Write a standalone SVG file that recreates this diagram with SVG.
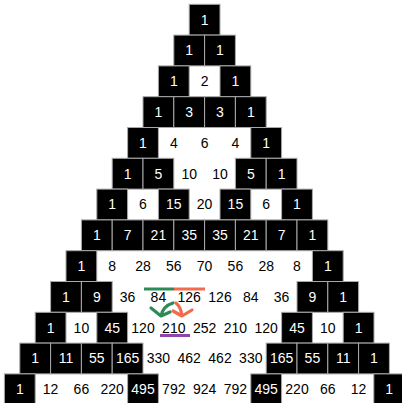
<svg xmlns="http://www.w3.org/2000/svg" width="402" height="403" viewBox="0 0 402 403">
<style>
rect.b{fill:#000;stroke:#aaa;stroke-width:1}
text{font-family:"Liberation Sans",Arial,sans-serif;font-size:14px;text-anchor:middle;fill:#000}
.b+text{fill:#fff}
.ann{fill:none;stroke-width:3;stroke-linecap:butt}
.arr{fill:none;stroke-width:3.2;stroke-linecap:round;stroke-linejoin:round}
</style>
<rect width="402" height="403" fill="#fff"/>
<g id="row0">
<g id="n0-0"><rect class="b" x="189.2" y="4.3" width="30.8" height="30.8"/><text x="204.6" y="24.6">1</text></g>
</g>
<g id="row1">
<g id="n1-0"><rect class="b" x="173.8" y="35.1" width="30.8" height="30.8"/><text x="189.2" y="55.4">1</text></g>
<g id="n1-1"><rect class="b" x="204.6" y="35.1" width="30.8" height="30.8"/><text x="220" y="55.4">1</text></g>
</g>
<g id="row2">
<g id="n2-0"><rect class="b" x="158.4" y="65.9" width="30.8" height="30.8"/><text x="173.8" y="86.2">1</text></g>
<g id="n2-1"><text x="204.6" y="86.2">2</text></g>
<g id="n2-2"><rect class="b" x="220" y="65.9" width="30.8" height="30.8"/><text x="235.4" y="86.2">1</text></g>
</g>
<g id="row3">
<g id="n3-0"><rect class="b" x="143" y="96.7" width="30.8" height="30.8"/><text x="158.4" y="117">1</text></g>
<g id="n3-1"><rect class="b" x="173.8" y="96.7" width="30.8" height="30.8"/><text x="189.2" y="117">3</text></g>
<g id="n3-2"><rect class="b" x="204.6" y="96.7" width="30.8" height="30.8"/><text x="220" y="117">3</text></g>
<g id="n3-3"><rect class="b" x="235.4" y="96.7" width="30.8" height="30.8"/><text x="250.8" y="117">1</text></g>
</g>
<g id="row4">
<g id="n4-0"><rect class="b" x="127.6" y="127.5" width="30.8" height="30.8"/><text x="143" y="147.8">1</text></g>
<g id="n4-1"><text x="173.8" y="147.8">4</text></g>
<g id="n4-2"><text x="204.6" y="147.8">6</text></g>
<g id="n4-3"><text x="235.4" y="147.8">4</text></g>
<g id="n4-4"><rect class="b" x="250.8" y="127.5" width="30.8" height="30.8"/><text x="266.2" y="147.8">1</text></g>
</g>
<g id="row5">
<g id="n5-0"><rect class="b" x="112.2" y="158.3" width="30.8" height="30.8"/><text x="127.6" y="178.6">1</text></g>
<g id="n5-1"><rect class="b" x="143" y="158.3" width="30.8" height="30.8"/><text x="158.4" y="178.6">5</text></g>
<g id="n5-2"><text x="189.2" y="178.6">10</text></g>
<g id="n5-3"><text x="220" y="178.6">10</text></g>
<g id="n5-4"><rect class="b" x="235.4" y="158.3" width="30.8" height="30.8"/><text x="250.8" y="178.6">5</text></g>
<g id="n5-5"><rect class="b" x="266.2" y="158.3" width="30.8" height="30.8"/><text x="281.6" y="178.6">1</text></g>
</g>
<g id="row6">
<g id="n6-0"><rect class="b" x="96.8" y="189.1" width="30.8" height="30.8"/><text x="112.2" y="209.4">1</text></g>
<g id="n6-1"><text x="143" y="209.4">6</text></g>
<g id="n6-2"><rect class="b" x="158.4" y="189.1" width="30.8" height="30.8"/><text x="173.8" y="209.4">15</text></g>
<g id="n6-3"><text x="204.6" y="209.4">20</text></g>
<g id="n6-4"><rect class="b" x="220" y="189.1" width="30.8" height="30.8"/><text x="235.4" y="209.4">15</text></g>
<g id="n6-5"><text x="266.2" y="209.4">6</text></g>
<g id="n6-6"><rect class="b" x="281.6" y="189.1" width="30.8" height="30.8"/><text x="297" y="209.4">1</text></g>
</g>
<g id="row7">
<g id="n7-0"><rect class="b" x="81.4" y="219.9" width="30.8" height="30.8"/><text x="96.8" y="240.2">1</text></g>
<g id="n7-1"><rect class="b" x="112.2" y="219.9" width="30.8" height="30.8"/><text x="127.6" y="240.2">7</text></g>
<g id="n7-2"><rect class="b" x="143" y="219.9" width="30.8" height="30.8"/><text x="158.4" y="240.2">21</text></g>
<g id="n7-3"><rect class="b" x="173.8" y="219.9" width="30.8" height="30.8"/><text x="189.2" y="240.2">35</text></g>
<g id="n7-4"><rect class="b" x="204.6" y="219.9" width="30.8" height="30.8"/><text x="220" y="240.2">35</text></g>
<g id="n7-5"><rect class="b" x="235.4" y="219.9" width="30.8" height="30.8"/><text x="250.8" y="240.2">21</text></g>
<g id="n7-6"><rect class="b" x="266.2" y="219.9" width="30.8" height="30.8"/><text x="281.6" y="240.2">7</text></g>
<g id="n7-7"><rect class="b" x="297" y="219.9" width="30.8" height="30.8"/><text x="312.4" y="240.2">1</text></g>
</g>
<g id="row8">
<g id="n8-0"><rect class="b" x="66" y="250.7" width="30.8" height="30.8"/><text x="81.4" y="271">1</text></g>
<g id="n8-1"><text x="112.2" y="271">8</text></g>
<g id="n8-2"><text x="143" y="271">28</text></g>
<g id="n8-3"><text x="173.8" y="271">56</text></g>
<g id="n8-4"><text x="204.6" y="271">70</text></g>
<g id="n8-5"><text x="235.4" y="271">56</text></g>
<g id="n8-6"><text x="266.2" y="271">28</text></g>
<g id="n8-7"><text x="297" y="271">8</text></g>
<g id="n8-8"><rect class="b" x="312.4" y="250.7" width="30.8" height="30.8"/><text x="327.8" y="271">1</text></g>
</g>
<g id="row9">
<g id="n9-0"><rect class="b" x="50.6" y="281.5" width="30.8" height="30.8"/><text x="66" y="301.8">1</text></g>
<g id="n9-1"><rect class="b" x="81.4" y="281.5" width="30.8" height="30.8"/><text x="96.8" y="301.8">9</text></g>
<g id="n9-2"><text x="127.6" y="301.8">36</text></g>
<g id="n9-3"><text x="158.4" y="301.8">84</text></g>
<g id="n9-4"><text x="189.2" y="301.8">126</text></g>
<g id="n9-5"><text x="220" y="301.8">126</text></g>
<g id="n9-6"><text x="250.8" y="301.8">84</text></g>
<g id="n9-7"><text x="281.6" y="301.8">36</text></g>
<g id="n9-8"><rect class="b" x="297" y="281.5" width="30.8" height="30.8"/><text x="312.4" y="301.8">9</text></g>
<g id="n9-9"><rect class="b" x="327.8" y="281.5" width="30.8" height="30.8"/><text x="343.2" y="301.8">1</text></g>
</g>
<g id="row10">
<g id="n10-0"><rect class="b" x="35.2" y="312.3" width="30.8" height="30.8"/><text x="50.6" y="332.6">1</text></g>
<g id="n10-1"><text x="81.4" y="332.6">10</text></g>
<g id="n10-2"><rect class="b" x="96.8" y="312.3" width="30.8" height="30.8"/><text x="112.2" y="332.6">45</text></g>
<g id="n10-3"><text x="143" y="332.6">120</text></g>
<g id="n10-4"><text x="173.8" y="332.6">210</text></g>
<g id="n10-5"><text x="204.6" y="332.6">252</text></g>
<g id="n10-6"><text x="235.4" y="332.6">210</text></g>
<g id="n10-7"><text x="266.2" y="332.6">120</text></g>
<g id="n10-8"><rect class="b" x="281.6" y="312.3" width="30.8" height="30.8"/><text x="297" y="332.6">45</text></g>
<g id="n10-9"><text x="327.8" y="332.6">10</text></g>
<g id="n10-10"><rect class="b" x="343.2" y="312.3" width="30.8" height="30.8"/><text x="358.6" y="332.6">1</text></g>
</g>
<g id="row11">
<g id="n11-0"><rect class="b" x="19.8" y="343.1" width="30.8" height="30.8"/><text x="35.2" y="363.4">1</text></g>
<g id="n11-1"><rect class="b" x="50.6" y="343.1" width="30.8" height="30.8"/><text x="66" y="363.4">11</text></g>
<g id="n11-2"><rect class="b" x="81.4" y="343.1" width="30.8" height="30.8"/><text x="96.8" y="363.4">55</text></g>
<g id="n11-3"><rect class="b" x="112.2" y="343.1" width="30.8" height="30.8"/><text x="127.6" y="363.4">165</text></g>
<g id="n11-4"><text x="158.4" y="363.4">330</text></g>
<g id="n11-5"><text x="189.2" y="363.4">462</text></g>
<g id="n11-6"><text x="220" y="363.4">462</text></g>
<g id="n11-7"><text x="250.8" y="363.4">330</text></g>
<g id="n11-8"><rect class="b" x="266.2" y="343.1" width="30.8" height="30.8"/><text x="281.6" y="363.4">165</text></g>
<g id="n11-9"><rect class="b" x="297" y="343.1" width="30.8" height="30.8"/><text x="312.4" y="363.4">55</text></g>
<g id="n11-10"><rect class="b" x="327.8" y="343.1" width="30.8" height="30.8"/><text x="343.2" y="363.4">11</text></g>
<g id="n11-11"><rect class="b" x="358.6" y="343.1" width="30.8" height="30.8"/><text x="374" y="363.4">1</text></g>
</g>
<g id="row12">
<g id="n12-0"><rect class="b" x="4.4" y="373.9" width="30.8" height="30.8"/><text x="19.8" y="394.2">1</text></g>
<g id="n12-1"><text x="50.6" y="394.2">12</text></g>
<g id="n12-2"><text x="81.4" y="394.2">66</text></g>
<g id="n12-3"><text x="112.2" y="394.2">220</text></g>
<g id="n12-4"><rect class="b" x="127.6" y="373.9" width="30.8" height="30.8"/><text x="143" y="394.2">495</text></g>
<g id="n12-5"><text x="173.8" y="394.2">792</text></g>
<g id="n12-6"><text x="204.6" y="394.2">924</text></g>
<g id="n12-7"><text x="235.4" y="394.2">792</text></g>
<g id="n12-8"><rect class="b" x="250.8" y="373.9" width="30.8" height="30.8"/><text x="266.2" y="394.2">495</text></g>
<g id="n12-9"><text x="297" y="394.2">220</text></g>
<g id="n12-10"><text x="327.8" y="394.2">66</text></g>
<g id="n12-11"><text x="358.6" y="394.2">12</text></g>
<g id="n12-12"><rect class="b" x="373.8" y="373.9" width="30.8" height="30.8"/><text x="389.2" y="394.2">1</text></g>
</g>
<g id="connectors">
<line class="ann" x1="144" y1="289" x2="174" y2="289" stroke="#2e8b57"/>
<line class="ann" x1="174" y1="289" x2="205" y2="289" stroke="#f26b4a"/>
<line class="ann" x1="160" y1="335.5" x2="190" y2="335.5" stroke="#8e44ad"/>
<path class="arr" stroke="#2e8b57" d="M173,303 Q163,306 161,316 M151,308 L161,316 L170,312"/>
<path class="arr" stroke="#f26b4a" d="M176,303 Q181,307 182,316 M173,311 L182,316 L192,310"/>
</g>
</svg>
